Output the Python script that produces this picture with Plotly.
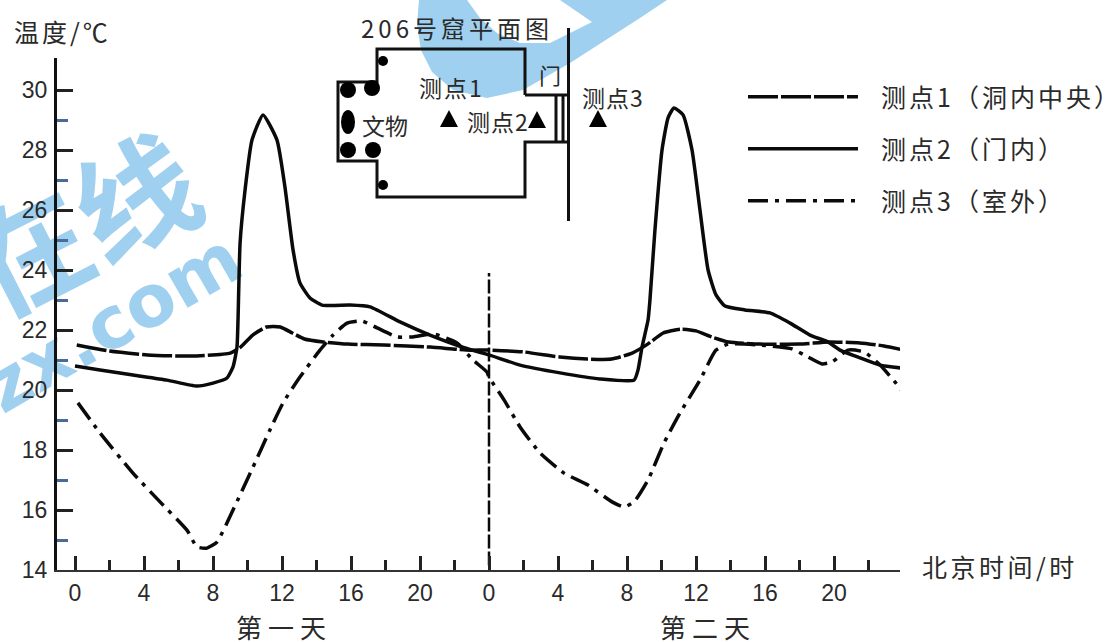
import plotly.graph_objects as go

# ---------- data ----------
hours_1 = [0.1,2.0,4.2,6.7,9.0,9.6,10.3,11.1,11.9,12.6,13.3,14.4,15.8,17.9,20.6,22.7,24.0,26.0,28.1,29.7,31.1,32.3,33.2,34.1,35.1,36.0,36.9,37.9,39.7,42.0,43.7,45.5,46.9,48.3]
temp_1 = [21.5,21.3,21.17,21.13,21.23,21.43,21.83,22.1,22.1,21.9,21.7,21.6,21.53,21.5,21.43,21.33,21.33,21.27,21.1,21.03,21.03,21.23,21.53,21.9,22.03,21.97,21.77,21.6,21.53,21.53,21.6,21.57,21.47,21.3]

hours_2 = [0,1.45,3.36,5.33,7.07,8.0,8.81,9.16,9.39,9.45,9.57,9.86,10.26,10.9,11.71,12.17,12.64,13.04,13.62,14.32,15.94,17.1,18.84,20.58,22.61,24.0,25.8,28.12,30.43,32.41,32.64,32.87,33.22,33.33,33.62,34.03,34.38,34.72,35.25,35.77,36.23,36.7,37.16,37.68,38.84,40.29,41.45,42.61,43.65,44.35,45.51,46.67,47.94]
temp_2 = [20.8,20.67,20.5,20.33,20.13,20.23,20.4,20.77,21.43,22.33,24.9,26.67,28.33,29.17,28.33,26.77,24.67,23.57,23.07,22.83,22.83,22.77,22.27,21.83,21.4,21.17,20.83,20.57,20.37,20.33,20.67,21.43,22.33,23.0,25.33,28.0,29.07,29.4,29.17,28.0,26.0,24.0,23.17,22.8,22.67,22.57,22.23,21.83,21.6,21.33,21.07,20.83,20.73]

hours_3 = [0.17,1.45,3.36,4.93,6.49,7.07,7.65,8.23,9.16,10.32,11.3,12.06,13.04,14.2,14.96,15.77,16.64,17.51,18.67,19.59,20.75,22.14,23.07,23.88,24.0,24.87,25.8,26.96,28.35,29.74,31.13,31.83,32.41,33.22,34.14,35.07,36.23,37.16,37.86,39.71,41.57,42.49,43.3,43.88,44.81,45.74,46.67,47.59,48.23]
temp_3 = [19.57,18.57,17.23,16.27,15.33,14.77,14.73,14.93,16.0,17.43,18.67,19.57,20.43,21.33,21.83,22.23,22.3,22.07,21.77,21.77,21.87,21.57,21.0,20.6,20.43,19.67,18.77,17.9,17.23,16.83,16.27,16.1,16.27,17.0,18.23,19.23,20.33,21.33,21.53,21.5,21.37,21.1,20.87,20.93,21.33,21.27,20.83,20.23,19.77]

series_names = ["测点1（洞内中央）", "测点2（门内）", "测点3（室外）"]
x_major = [0,4,8,12,16,20,24,28,32,36,40,44]
x_labels = ["0","4","8","12","16","20","0","4","8","12","16","20"]
x_minor = [2,6,10,14,18,22,26,30,34,38,42,46,47.83]
y_major = [14,16,18,20,22,24,26,28,30]
y_minor = [15,17,19,21,23,25,27,29]
midnight_x = [24, 24]
midnight_y = [14.15, 23.9]

# ---------- page geometry ----------
W, H = 1108, 642
L, R, T, B = 57, 900, 58, 570
CJK = "Noto Sans CJK SC"
INK = "#2a2a2a"
WM = "#9fd0f0"

def px(x): return (x - L) / (R - L)
def py(y): return (B - y) / (B - T)
def poly(points):
    return "M " + " L ".join(f"{px(a):.5f},{py(b):.5f}" for a, b in points) + " Z"
def ellipse(cx, cy, rx, ry):
    return dict(type="circle", xref="paper", yref="paper", x0=px(cx-rx), x1=px(cx+rx),
                y0=py(cy+ry), y1=py(cy-ry), fillcolor="black", line_width=0)
def seg(points, width=3):
    return dict(type="path", xref="paper", yref="paper",
                path="M " + " L ".join(f"{px(a):.5f},{py(b):.5f}" for a, b in points),
                line=dict(color="#111", width=width), fillcolor="rgba(0,0,0,0)")
def tri(cx, cy):
    return dict(type="path", xref="paper", yref="paper", path=poly([(cx-9,cy+8),(cx+9,cy+8),(cx,cy-9)]),
                fillcolor="black", line_width=0)
def wm_text(text, cx, cy, size, angle, family):
    return dict(type="rect", xref="paper", yref="paper", x0=px(cx-10), x1=px(cx+10), y0=py(cy+10), y1=py(cy-10),
                layer="below", line_width=0, fillcolor="rgba(0,0,0,0)",
                label=dict(text=f"<b>{text}</b>", textangle=angle, textposition="middle center",
                           font=dict(size=size, color=WM, family=family)))

shapes = [
    dict(type="path", xref="paper", yref="paper", layer="below", fillcolor=WM, line_width=0,
         path=poly([(419,0),(417,25),(421,50),(432,72),(453,90),(487,98),(523,90),(570,63),(640,18),(667,0),
                    (560,0),(592,22),(550,43),(520,43),(497,33),(480,18),(467,0)])),
    wm_text("在线", 88, 236, 120, -27, CJK),
    wm_text("zx.com", 110, 318, 72, -30, "DejaVu Sans"),
    # floor plan of cave 206
    seg([(525,95),(525,49),(377,49),(377,82),(338,82),(338,161),(377,161),(377,197),(525,197),(525,142),(568,142)]),
    seg([(525,95),(568,95)]),
    seg([(568.5,28),(568.5,221)]),
    seg([(556,95),(556,142)]),
    seg([(563,95),(563,142)]),
    ellipse(348,90,8,8), ellipse(372,88,8,8), ellipse(348,122,7,12), ellipse(348,150,8,8),
    ellipse(373,150,8,8), ellipse(383,61,5,5), ellipse(383,185,5,5),
    tri(449,119), tri(537,120), tri(598,119),
]

def note(text, x, y, size=23, anchor="center", spacing=0):
    shown = f'<span style="letter-spacing:{spacing}px">{text}</span>' if spacing else text
    return dict(text=shown, xref="paper", yref="paper", x=px(x), y=py(y), xanchor=anchor, yanchor="middle",
                showarrow=False, font=dict(family=CJK, size=size, color=INK))

annotations = [
    note("温度/℃", 12, 31, size=25, anchor="left", spacing=3),
    note("206号窟平面图", 457, 27, size=24, spacing=4),
    note("测点1", 451, 87, spacing=2),
    note("测点2", 498, 121, spacing=1),
    note("测点3", 613, 97, spacing=1),
    note("文物", 385, 125),
    note("门", 550, 74, size=22),
    note("北京时间/时", 920, 566, size=25, anchor="left", spacing=3.5),
    note("第一天", 284, 626, size=26, spacing=6),
    note("第二天", 708, 626, size=26, spacing=6),
]

fig = go.Figure()
line_common = dict(color="#0a0a0a", shape="spline", smoothing=0.5)
fig.add_trace(go.Scatter(x=hours_1, y=temp_1, mode="lines", name=series_names[0], legendgroup="a",
                         cliponaxis=False, line=dict(width=3.5, dash="30px,3px", **line_common)))
fig.add_trace(go.Scatter(x=hours_2, y=temp_2, mode="lines", name=series_names[1], legendgroup="b",
                         cliponaxis=False, line=dict(width=3.5, **line_common)))
fig.add_trace(go.Scatter(x=hours_3, y=temp_3, mode="lines", name=series_names[2], legendgroup="c",
                         cliponaxis=False, line=dict(width=3.5, dash="20px,7px,4px,7px", **line_common)))
fig.add_trace(go.Scatter(x=midnight_x, y=midnight_y, mode="lines", showlegend=False, hoverinfo="skip",
                         line=dict(color="#0a0a0a", width=2.5, dash="14px,3px")))

fig.update_layout(
    width=W, height=H, autosize=False, paper_bgcolor="white", plot_bgcolor="white",
    margin=dict(l=L, r=W-R, t=T, b=H-B, autoexpand=False, pad=0),
    font=dict(family=CJK, color=INK),
    shapes=shapes, annotations=annotations,
    legend=dict(x=px(743), y=py(74), xanchor="left", yanchor="top", bgcolor="rgba(0,0,0,0)",
                itemwidth=110, tracegroupgap=16.5, traceorder="grouped",
                font=dict(family=CJK, size=25, color=INK)),
    xaxis=dict(range=[0-(75-L)/17.25, (R-75)/17.25], tickmode="array", tickvals=x_major, ticktext=x_labels,
               ticks="inside", ticklen=14, tickwidth=3, tickcolor="#222", showgrid=False, zeroline=False,
               showline=True, linecolor="#333", linewidth=2, ticklabelstandoff=1,
               tickfont=dict(family="Liberation Sans", size=23, color=INK),
               minor=dict(tickmode="array", tickvals=x_minor, ticks="inside", ticklen=10, tickwidth=2.5,
                          tickcolor="#222", showgrid=False)),
    yaxis=dict(range=[14, 14+(B-T)/30], tickmode="array", tickvals=y_major, ticks="inside", ticklen=16,
               tickwidth=2.5, tickcolor="#222", showgrid=False, zeroline=False,
               showline=True, linecolor="#111", linewidth=3, ticklabelstandoff=2,
               tickfont=dict(family="Liberation Sans", size=23, color=INK),
               minor=dict(tickmode="array", tickvals=y_minor, ticks="inside", ticklen=11, tickwidth=2.5,
                          tickcolor="#4a6a98", showgrid=False)),
)

post = """
document.body.style.margin='0';document.body.style.overflow='hidden';
var gd=document.querySelector('.plotly-graph-div');
gd.querySelectorAll('.legendtext').forEach(function(t){t.setAttribute('x',138);t.style.letterSpacing='3px';});
gd.querySelectorAll('.legend .scrollbox, .legend').forEach(function(e){e.removeAttribute('clip-path');e.style.clipPath='none';});
"""
fig.write_html("out.html", config={"displayModeBar": False}, post_script=post)
